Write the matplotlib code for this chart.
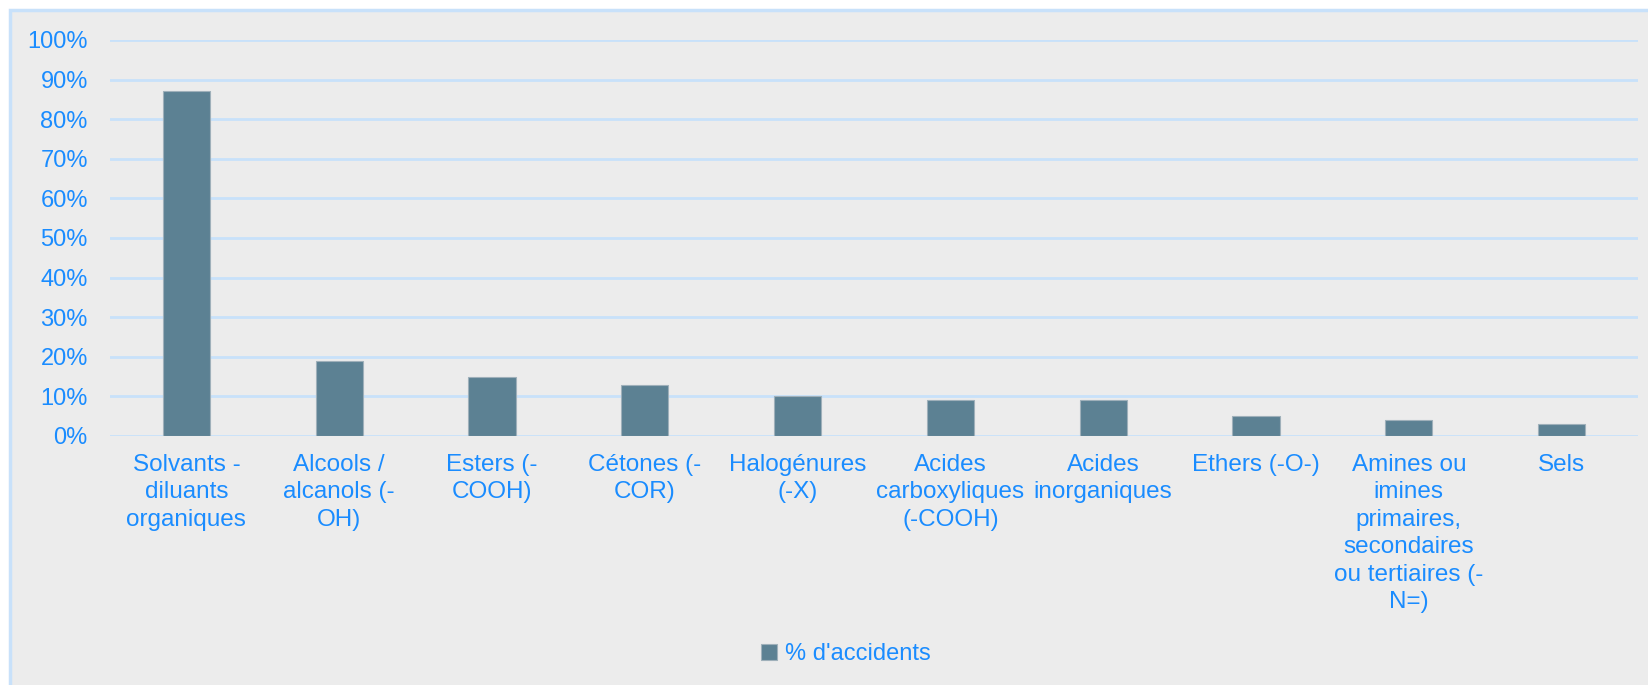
import matplotlib.pyplot as plt
from matplotlib.patches import Rectangle

# Familles chimiques et part des accidents
familles = [
    "Solvants -\ndiluants\norganiques",
    "Alcools /\nalcanols (-\nOH)",
    "Esters (-\nCOOH)",
    "Cétones (-\nCOR)",
    "Halogénures\n(-X)",
    "Acides\ncarboxyliques\n(-COOH)",
    "Acides\ninorganiques",
    "Ethers (-O-)",
    "Amines ou\nimines\nprimaires,\nsecondaires\nou tertiaires (-\nN=)",
    "Sels",
]
pct_accidents = [87, 19, 15, 13, 10, 9, 9, 5, 4, 3]
graduations = list(range(0, 101, 10))

bleu_texte = '#1a8cff'
bleu_grille = '#c8e1fa'
fond = '#ececec'
couleur_barre = '#5c8193'

plt.rcParams['font.family'] = ['Liberation Sans', 'DejaVu Sans']

fig = plt.figure(figsize=(16.48, 6.85), dpi=100, facecolor='white')

# Cadre de la zone du graphique (sous les axes)
W, H = 1648, 685
cadre = Rectangle((10 / W, -0.1), 1.1, 1.1 - 10 / H, transform=fig.transFigure,
                  facecolor=fond, edgecolor=bleu_grille, linewidth=2.5, zorder=-1)
fig.patches.append(cadre)

ax = fig.add_axes([110 / W, 1 - 436 / H, 1528 / W, 396 / H])
ax.set_facecolor('none')

x = range(len(familles))
ax.bar(x, [v / 100 for v in pct_accidents], width=0.31, color=couleur_barre,
       edgecolor='#9fb0ba', linewidth=0.8, zorder=3, label="% d'accidents")

ax.set_xlim(-0.5, len(familles) - 0.5)
ax.set_ylim(0, 1.0)
ax.set_yticks([g / 100 for g in graduations])
ax.set_yticklabels([f"{g}%" for g in graduations])
ax.set_xticks(list(x))
ax.set_xticklabels(familles, linespacing=1.32)

ax.grid(axis='y', color=bleu_grille, linewidth=2, zorder=1)
ax.set_axisbelow(True)
for s in ax.spines.values():
    s.set_visible(False)

ax.tick_params(axis='y', length=0, pad=16, labelsize=17, labelcolor=bleu_texte)
ax.tick_params(axis='x', length=0, pad=13, labelsize=17.5, labelcolor=bleu_texte)

leg = fig.legend(loc='center', bbox_to_anchor=(846 / W, 1 - 654 / H), frameon=False,
                 fontsize=17, handlelength=0.65, handleheight=0.65, handletextpad=0.35)
for t in leg.get_texts():
    t.set_color(bleu_texte)

fig.savefig('out.png', dpi=100, facecolor='white')
